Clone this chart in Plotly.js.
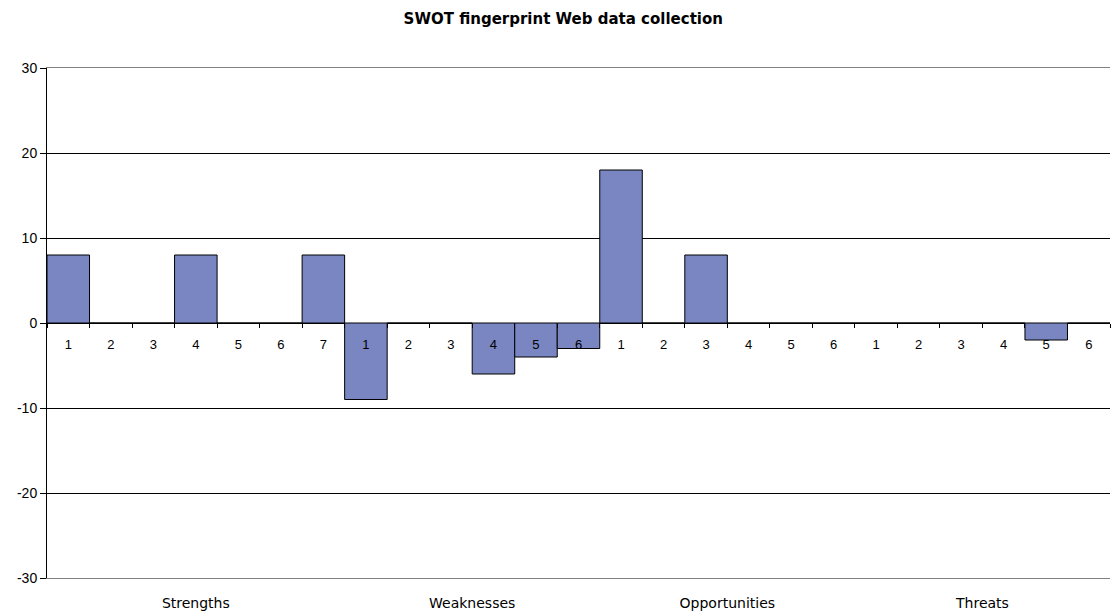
<!DOCTYPE html>
<html>
<head>
<meta charset="utf-8">
<script src="https://cdn.plot.ly/plotly-3.0.1.min.js"></script>
<style>html,body{margin:0;padding:0;background:#fff;}#chart{width:1111px;height:616px;}</style>
</head>
<body>
<div id="chart"></div>
<script>
const groups = ['Strengths', 'Weaknesses', 'Opportunities', 'Threats'];
const strengths = [8, 0, 0, 8, 0, 0, 8];
const weaknesses = [-9, 0, 0, -6, -4, -3];
const opportunities = [18, 0, 8, 0, 0, 0];
const threats = [0, 0, 0, 0, -2, 0];
const yTicks = [-30, -20, -10, 0, 10, 20, 30];
const gridTicks = [-20, -10, 10, 20];

const series = [strengths, weaknesses, opportunities, threats];
const xs = [], ys = [], labels = [], groupCenters = [];
let idx = 0;
series.forEach(function (arr) {
  const start = idx;
  arr.forEach(function (v, j) {
    xs.push(idx + 0.5);
    ys.push(v);
    labels.push(String(j + 1));
    idx++;
  });
  groupCenters.push((start + idx) / 2);
});
const n = idx;
const boundaries = [];
for (let i = 0; i <= n; i++) boundaries.push(i);

const baseFont = {family: 'Liberation Sans, Arial, sans-serif', size: 12, color: '#000'};

function dummy(xa, ya) {
  return {type: 'scatter', mode: 'markers', x: [null], y: [null], xaxis: xa, yaxis: ya,
          hoverinfo: 'skip', showlegend: false, marker: {opacity: 0}};
}

const data = [
  dummy('x', 'y2'),
  dummy('x3', 'y'),
  dummy('x2', 'y'),
  {
    type: 'bar',
    x: xs,
    y: ys,
    width: 1,
    marker: {color: '#7986C1', line: {color: '#000', width: 1}},
    hoverinfo: 'skip',
    xaxis: 'x',
    yaxis: 'y'
  }
];

const layout = {
  width: 1111,
  height: 616,
  margin: {l: 47, r: 1, t: 68, b: 38},
  paper_bgcolor: '#fff',
  plot_bgcolor: '#fff',
  showlegend: false,
  bargap: 0,
  font: baseFont,
  title: {
    text: 'SWOT fingerprint Web data collection',
    font: {family: 'DejaVu Sans, sans-serif', size: 15, weight: 'bold', color: '#000'},
    x: 0.507, xref: 'container', xanchor: 'center',
    y: 1 - 19 / 616, yref: 'container', yanchor: 'middle'
  },
  xaxis: {
    range: [0, n],
    anchor: 'free',
    position: 0.5,
    tickvals: xs,
    ticktext: labels,
    ticks: '',
    showgrid: false,
    zeroline: false,
    showline: false,
    ticklabelstandoff: 12,
    tickfont: {family: 'Liberation Sans, Arial, sans-serif', size: 13, color: '#000'}
  },
  xaxis2: {
    overlaying: 'x',
    range: [0, n],
    anchor: 'free',
    position: 0.5,
    tickvals: boundaries,
    ticks: 'outside',
    ticklen: 4,
    tickcolor: '#000',
    showticklabels: false,
    showgrid: false,
    zeroline: false,
    showline: false
  },
  xaxis3: {
    overlaying: 'x',
    range: [0, n],
    anchor: 'y',
    side: 'bottom',
    tickvals: groupCenters,
    ticktext: groups,
    ticks: '',
    showgrid: false,
    zeroline: false,
    showline: true,
    mirror: true,
    linecolor: '#808080',
    linewidth: 1,
    ticklabelstandoff: 12,
    tickfont: {family: 'DejaVu Sans, sans-serif', size: 14, color: '#000'}
  },
  yaxis: {
    range: [-30, 30],
    tickvals: yTicks,
    ticktext: yTicks.map(String),
    ticks: 'outside',
    ticklen: 6,
    tickcolor: '#000',
    showline: true,
    linecolor: '#000',
    linewidth: 1,
    showgrid: false,
    zeroline: true,
    zerolinecolor: '#000',
    zerolinewidth: 1,
    tickfont: {family: 'Liberation Sans, Arial, sans-serif', size: 14, color: '#000'}
  },
  yaxis2: {
    overlaying: 'y',
    range: [-30, 30],
    tickvals: gridTicks,
    showticklabels: false,
    ticks: '',
    showgrid: true,
    gridcolor: '#000',
    gridwidth: 1,
    zeroline: false,
    showline: false
  }
};

Plotly.newPlot('chart', data, layout, {displayModeBar: false, staticPlot: true});
</script>
</body>
</html>
